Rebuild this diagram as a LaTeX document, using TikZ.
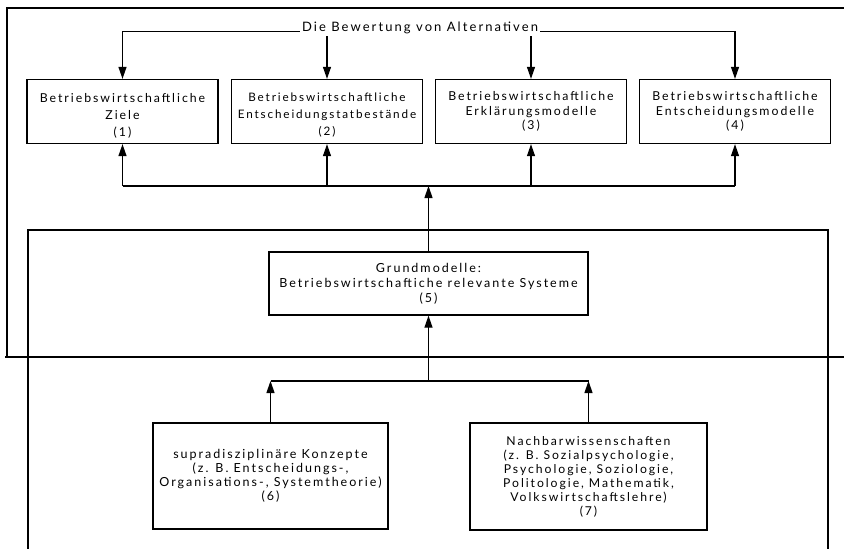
\documentclass[tikz,border=0pt]{standalone}
\usepackage{fontspec}
\setmainfont{Lato}[LetterSpace=16]
\usetikzlibrary{arrows.meta}
\begin{document}
\begin{tikzpicture}[x=1pt,y=-1pt,
  box/.style={draw, line width=1.3pt, inner sep=0pt, align=center},
  topbox/.style={box, minimum width=191pt, minimum height=64pt, font=\fontsize{12.3}{14.5}\selectfont},
  toptext/.style={inner sep=0pt, align=center, font=\fontsize{12.3}{17}\selectfont},
  lowbox/.style={box, font=\fontsize{12.5}{14}\selectfont},
  frameline/.style={line width=1.2pt},
  conn/.style={line width=1.2pt},
  arr/.style={conn, -{Triangle[length=12pt,width=8pt]}}]
\useasboundingbox (0,0) rectangle (844,549);
% frames
\draw[frameline] (844,8) -- (7,8) -- (7,357);
\draw[frameline] (5,357) -- (844,357);
\draw[frameline] (28,549) -- (28,230) -- (828,230) -- (828,549);
% top row
\node[topbox, label={[toptext, yshift=-4pt]center:{Betriebswirtschaftliche\\Ziele\\(1)}}] (b1) at (122.5,111.5) {};
\node[topbox, label={[toptext, yshift=-4pt, font=\fontsize{11.7}{17}\selectfont]center:{Betriebswirtschaftliche\\Entscheidungstatbestände\\(2)}}] (b2) at (327,111.5) {};
\node[topbox] (b3) at (531,111.5) {Betriebswirtschaftliche\\Erklärungsmodelle\\(3)};
\node[topbox] (b4) at (735,111.5) {Betriebswirtschaftliche\\Entscheidungsmodelle\\(4)};
% title
\node[inner sep=2pt, font=\fontsize{13}{15}\selectfont] (title) at (420,28) {Die Bewertung von Alternativen};
\draw[arr] (title.base west) -| (b1.north);
\draw[arr] (title.base east) -| (b4.north);
\draw[arr] (title.south -| b2.north) -- (b2.north);
\draw[arr] (title.south -| b3.north) -- (b3.north);
% middle
\node[lowbox, minimum width=319pt, minimum height=63pt, font=\fontsize{12.5}{15}\selectfont] (b5) at (428.5,283.5) {Grundmodelle:\\Betriebswirtschaftiche relevante Systeme\\(5)};
\coordinate (c1) at (428.5,186);
\draw[conn] (b1.south |- c1) -- (b4.south |- c1);
\draw[arr] (b1.south |- c1) -- (b1.south);
\draw[arr] (b2.south |- c1) -- (b2.south);
\draw[arr] (b3.south |- c1) -- (b3.south);
\draw[arr] (b4.south |- c1) -- (b4.south);
\draw[arr] (b5.north) -- (c1);
% bottom
\node[lowbox, minimum width=235pt, minimum height=106pt] (b6) at (270.5,476) {supradisziplinäre Konzepte\\(z. B. Entscheidungs-,\\Organisations-, Systemtheorie)\\(6)};
\node[lowbox, minimum width=237pt, minimum height=107pt, font=\fontsize{12.2}{14}\selectfont] (b7) at (588.5,476.5) {Nachbarwissenschaften\\(z. B. Sozialpsychologie,\\Psychologie, Soziologie,\\Politologie, Mathematik,\\Volkswirtschaftslehre)\\(7)};
\coordinate (c2) at (428.5,381);
\draw[conn] (b6.north |- c2) -- (b7.north |- c2);
\draw[arr] (b6.north) -- (b6.north |- c2);
\draw[arr] (b7.north) -- (b7.north |- c2);
\draw[arr] (c2) -- (b5.south);
\end{tikzpicture}
\end{document}
